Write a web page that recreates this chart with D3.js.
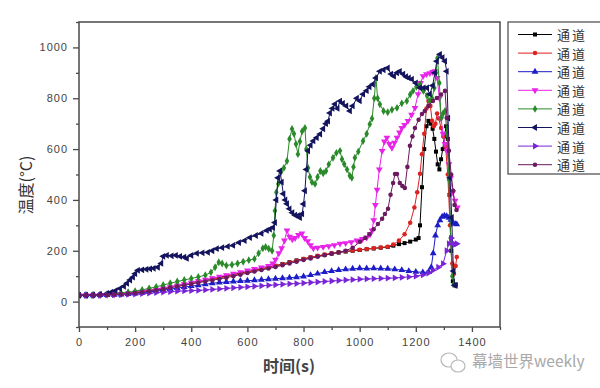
<!DOCTYPE html>
<html>
<head>
<meta charset="utf-8">
<script src="https://cdn.jsdelivr.net/npm/d3@7"></script>
<style>
  body { margin: 0; background: #fff; }
  svg { display: block; }
</style>
</head>
<body>
<div id="chart"></div>
<script>
// temperature readings, [time (s), temperature (°C)]
const ch1 = [[0,25],[25,25],[50,26],[75,26],[100,27],[125,28],[150,30],[175,33],[200,36],[225,40],[250,44],[275,48],[300,53],[325,58],[350,63],[375,68],[400,74],[425,80],[450,85],[475,90],[500,96],[525,101],[550,107],[575,112],[600,118],[625,123],[650,129],[675,135],[700,141],[725,148],[750,155],[775,162],[800,168],[825,174],[850,179],[875,184],[900,189],[925,193],[950,197],[975,200],[1000,203],[1025,206],[1050,209],[1075,212],[1100,215],[1120,220],[1140,226],[1160,230],[1180,236],[1200,244],[1210,250],[1215,300],[1222,450],[1230,600],[1238,690],[1245,711],[1252,700],[1260,680],[1266,640],[1272,590],[1278,540],[1284,520],[1290,560],[1296,600],[1302,650],[1308,690],[1314,640],[1320,420],[1326,200],[1332,80],[1338,64],[1342,66]];
const ch2 = [[0,25],[25,25],[50,25],[75,26],[100,27],[125,28],[150,30],[175,32],[200,35],[225,39],[250,43],[275,47],[300,52],[325,57],[350,62],[375,67],[400,72],[425,77],[450,82],[475,88],[500,93],[525,98],[550,104],[575,110],[600,116],[625,122],[650,128],[675,134],[700,140],[725,147],[750,154],[775,161],[800,168],[825,174],[850,180],[875,185],[900,190],[925,194],[950,198],[975,201],[1000,204],[1025,207],[1050,210],[1075,213],[1100,216],[1120,225],[1140,240],[1160,265],[1180,310],[1195,370],[1205,430],[1215,503],[1222,580],[1230,660],[1238,760],[1245,789],[1252,770],[1258,711],[1264,690],[1270,700],[1276,740],[1282,720],[1290,683],[1298,650],[1306,610],[1314,500],[1322,300],[1330,150],[1336,110],[1342,140],[1346,175]];
const ch3 = [[0,25],[25,25],[50,25],[75,26],[100,26],[125,27],[150,28],[175,30],[200,32],[225,35],[250,38],[275,41],[300,45],[325,49],[350,53],[375,57],[400,61],[425,64],[450,68],[475,72],[500,75],[525,77],[550,79],[575,81],[600,82],[625,84],[650,86],[675,88],[700,90],[725,92],[750,94],[775,96],[800,99],[825,104],[850,110],[875,116],[900,120],[925,124],[950,127],[975,129],[1000,131],[1025,130],[1050,131],[1075,130],[1100,129],[1125,127],[1150,124],[1175,120],[1200,117],[1225,115],[1245,116],[1255,135],[1262,190],[1270,260],[1278,300],[1286,320],[1294,334],[1302,338],[1310,336],[1318,330],[1325,322],[1332,310],[1340,306],[1346,304]];
const ch4 = [[0,25],[25,25],[50,25],[75,26],[100,27],[125,28],[150,30],[175,32],[200,35],[225,39],[250,43],[275,47],[300,52],[325,57],[350,62],[375,68],[400,74],[425,80],[450,86],[475,92],[500,98],[525,104],[550,110],[575,116],[600,122],[625,128],[650,134],[675,140],[690,150],[700,165],[712,190],[722,210],[732,240],[741,280],[750,255],[760,245],[770,250],[782,262],[794,268],[804,250],[815,238],[825,222],[835,210],[850,212],[870,215],[890,218],[910,222],[930,228],[950,230],[970,234],[990,240],[1010,246],[1025,252],[1037,265],[1044,280],[1050,320],[1056,380],[1062,440],[1070,520],[1080,593],[1088,630],[1097,645],[1106,620],[1115,605],[1124,625],[1133,645],[1142,665],[1150,683],[1160,695],[1172,711],[1185,735],[1197,762],[1208,816],[1217,860],[1226,887],[1238,895],[1250,899],[1260,903],[1268,906],[1276,880],[1284,800],[1290,720],[1297,660],[1304,620],[1311,593],[1318,540],[1324,487],[1332,430],[1340,397],[1348,370]];
const ch5 = [[0,25],[25,25],[50,26],[75,27],[100,29],[125,31],[150,34],[175,37],[200,41],[225,46],[250,52],[275,58],[300,65],[325,72],[350,79],[375,85],[400,91],[425,97],[450,104],[470,115],[485,135],[498,155],[510,150],[525,142],[545,145],[565,150],[585,157],[605,163],[625,168],[640,190],[655,210],[665,215],[676,208],[688,200],[694,260],[698,357],[703,430],[710,463],[720,510],[730,526],[741,553],[750,640],[759,679],[766,660],[773,620],[780,580],[787,630],[795,670],[805,683],[810,600],[816,526],[823,490],[830,470],[841,463],[850,490],[860,514],[870,505],[880,514],[890,540],[905,566],[917,585],[930,593],[937,560],[945,541],[955,520],[965,495],[972,487],[978,530],[983,566],[995,590],[1012,632],[1025,660],[1036,698],[1044,720],[1052,800],[1058,880],[1064,800],[1072,776],[1085,750],[1100,745],[1115,755],[1133,762],[1150,780],[1168,789],[1180,815],[1190,829],[1202,845],[1215,855],[1227,829],[1240,810],[1250,789],[1258,800],[1266,840],[1272,900],[1277,958],[1284,860],[1290,722],[1297,740],[1304,750],[1311,660],[1318,480],[1324,250],[1330,100],[1336,70]];
const ch6 = [[0,25],[25,25],[50,26],[75,28],[100,32],[115,37],[130,43],[146,51],[160,60],[171,72],[182,85],[192,96],[200,110],[210,123],[225,125],[240,127],[253,129],[266,131],[281,135],[293,150],[300,178],[313,182],[330,180],[345,182],[360,178],[375,175],[384,170],[400,182],[420,190],[440,192],[459,194],[475,200],[491,208],[510,212],[530,217],[549,221],[570,232],[590,240],[609,252],[630,260],[650,268],[669,280],[680,285],[691,291],[698,311],[703,400],[709,487],[716,514],[722,470],[728,424],[735,400],[741,385],[750,365],[760,350],[770,340],[780,338],[787,330],[795,345],[800,384],[805,436],[810,520],[816,593],[825,615],[835,632],[847,645],[859,659],[870,680],[880,700],[887,710],[894,742],[903,760],[912,777],[921,760],[930,789],[940,780],[952,770],[965,750],[975,770],[990,800],[1000,790],[1012,816],[1025,830],[1035,845],[1047,855],[1058,880],[1072,906],[1085,912],[1100,919],[1112,895],[1122,887],[1133,900],[1143,906],[1155,895],[1165,885],[1175,880],[1186,875],[1200,860],[1215,841],[1228,841],[1240,841],[1250,816],[1260,850],[1268,900],[1275,946],[1286,973],[1295,960],[1304,946],[1310,906],[1315,722],[1322,487],[1328,331],[1334,120],[1338,64],[1342,64]];
const ch7 = [[0,25],[25,25],[50,25],[75,25],[100,26],[125,26],[150,27],[175,28],[200,29],[225,31],[250,33],[275,35],[300,37],[325,39],[350,41],[375,42],[400,43],[425,44],[450,46],[475,48],[500,50],[525,52],[550,54],[575,56],[600,58],[625,60],[650,62],[675,64],[700,66],[725,68],[750,70],[775,71],[800,73],[825,75],[850,77],[875,79],[900,81],[925,83],[950,85],[975,86],[1000,88],[1025,89],[1050,90],[1075,91],[1100,92],[1125,93],[1150,95],[1175,97],[1200,100],[1225,105],[1245,112],[1261,123],[1280,135],[1297,149],[1310,200],[1318,228],[1326,250],[1333,228],[1340,225],[1346,228]];
const ch8 = [[0,25],[25,25],[50,25],[75,26],[100,27],[125,28],[150,29],[175,31],[200,34],[225,37],[250,41],[275,45],[300,49],[325,54],[350,59],[375,64],[400,69],[425,74],[450,79],[475,84],[500,89],[525,94],[550,100],[575,106],[600,112],[625,118],[650,124],[675,130],[700,136],[725,143],[750,150],[775,157],[800,164],[825,170],[850,176],[875,182],[900,188],[925,194],[950,200],[975,212],[1001,235],[1020,250],[1035,265],[1050,285],[1065,305],[1080,326],[1090,345],[1101,365],[1110,420],[1119,467],[1126,502],[1133,502],[1143,467],[1152,455],[1161,447],[1170,530],[1179,613],[1188,650],[1197,683],[1210,715],[1222,738],[1232,750],[1245,770],[1261,789],[1275,801],[1290,815],[1304,829],[1311,722],[1318,593],[1326,500],[1333,436],[1338,380],[1345,360]];

const seriesNames = ["通道", "通道", "通道", "通道", "通道", "通道", "通道", "通道"];
const xTicks = [0, 200, 400, 600, 800, 1000, 1200, 1400];
const yTicks = [0, 200, 400, 600, 800, 1000];

const channels = [ch1, ch2, ch3, ch4, ch5, ch6, ch7, ch8];
const colors = ["#000000", "#dd2222", "#1c1cc8", "#e824e8", "#2a8a2a", "#14145e", "#7a24d8", "#6a1a5e"];
// symbol type + rotation, Origin default order
const symbols = [
  { type: d3.symbolSquare, size: 16, rot: 0 },
  { type: d3.symbolCircle, size: 16, rot: 0 },
  { type: d3.symbolTriangle, size: 20, rot: 0 },
  { type: d3.symbolTriangle, size: 20, rot: 180 },
  { type: d3.symbolDiamond, size: 18, rot: 0 },
  { type: d3.symbolTriangle, size: 20, rot: -90 },
  { type: d3.symbolTriangle, size: 20, rot: 90 },
  { type: d3.symbolCircle, size: 16, rot: 0 },
];

const W = 600, H = 388;
const plot = { left: 79, right: 500, top: 22, bottom: 327 };

const svg = d3.select("#chart").append("svg")
  .attr("width", W).attr("height", H);

const x = d3.scaleLinear().domain([0, 1500]).range([plot.left, plot.right]);
const y = d3.scaleLinear().domain([-100, 1100]).range([plot.bottom, plot.top]);

const axisColor = "#4a4a4a";
const tickFont = "'Liberation Sans', Arial, sans-serif";
const fmt = d3.format("d");

// minor ticks first
svg.append("g")
  .attr("transform", `translate(${plot.left},0)`)
  .call(d3.axisLeft(y).tickValues(d3.range(-100, 1101, 100).filter(v => !yTicks.includes(v))).tickSize(3).tickFormat(""))
  .call(g => g.select(".domain").remove())
  .call(g => g.selectAll("line").attr("stroke", axisColor).attr("stroke-width", 1.3));

svg.append("g")
  .attr("transform", `translate(0,${plot.bottom})`)
  .call(d3.axisBottom(x).tickValues(d3.range(100, 1501, 200)).tickSize(3).tickFormat(""))
  .call(g => g.select(".domain").remove())
  .call(g => g.selectAll("line").attr("stroke", axisColor).attr("stroke-width", 1.3));

// major ticks with labels
const yAxis = svg.append("g")
  .attr("transform", `translate(${plot.left},0)`)
  .call(d3.axisLeft(y).tickValues(yTicks).tickSize(6).tickPadding(5).tickFormat(fmt))
  .call(g => g.select(".domain").remove());
yAxis.selectAll("line").attr("stroke", axisColor).attr("stroke-width", 1.3);
yAxis.selectAll("text")
  .attr("font-family", tickFont).attr("font-size", 11)
  .attr("letter-spacing", "1px").attr("fill", "#444");

const xAxis = svg.append("g")
  .attr("transform", `translate(0,${plot.bottom})`)
  .call(d3.axisBottom(x).tickValues(xTicks).tickSize(5).tickPadding(6).tickFormat(fmt))
  .call(g => g.select(".domain").remove());
xAxis.selectAll("line").attr("stroke", axisColor).attr("stroke-width", 1.3);
xAxis.selectAll("text")
  .attr("font-family", tickFont).attr("font-size", 11)
  .attr("letter-spacing", "1px").attr("fill", "#444");

// plot frame
svg.append("rect")
  .attr("x", plot.left).attr("y", plot.top)
  .attr("width", plot.right - plot.left).attr("height", plot.bottom - plot.top)
  .attr("fill", "none").attr("stroke", axisColor).attr("stroke-width", 1.5);

svg.append("clipPath").attr("id", "clip")
  .append("rect")
  .attr("x", plot.left).attr("y", plot.top)
  .attr("width", plot.right - plot.left).attr("height", plot.bottom - plot.top);

const line = d3.line().x(d => x(d[0])).y(d => y(d[1]));
const dataG = svg.append("g").attr("clip-path", "url(#clip)");

channels.forEach((data, i) => {
  const g = dataG.append("g");
  g.append("path")
    .datum(data)
    .attr("d", line)
    .attr("fill", "none")
    .attr("stroke", colors[i])
    .attr("stroke-width", 1);
  const sym = d3.symbol().type(symbols[i].type).size(symbols[i].size);
  g.selectAll("path.m")
    .data(data)
    .enter()
    .append("path")
    .attr("class", "m")
    .attr("d", sym)
    .attr("transform", d => `translate(${x(d[0])},${y(d[1])}) rotate(${symbols[i].rot})`)
    .attr("fill", colors[i]);
});

// axis titles
svg.append("text")
  .attr("transform", "translate(25,185) rotate(-90)")
  .attr("text-anchor", "middle")
  .attr("dominant-baseline", "central")
  .attr("font-family", "'Noto Sans CJK SC', sans-serif")
  .attr("font-size", 16)
  .attr("fill", "#333")
  .text("温度(°C)");

svg.append("text")
  .attr("x", 289).attr("y", 372)
  .attr("text-anchor", "middle")
  .attr("font-family", "'Noto Sans CJK SC', sans-serif")
  .attr("font-size", 16)
  .attr("font-weight", "bold")
  .attr("fill", "#444")
  .text("时间(s)");

// legend
const legend = svg.append("g");
legend.append("rect")
  .attr("x", 508).attr("y", 22)
  .attr("width", 110).attr("height", 152)
  .attr("fill", "#fff").attr("stroke", "#555").attr("stroke-width", 1.3);

seriesNames.forEach((name, i) => {
  const ly = 34.5 + i * 18.6;
  legend.append("line")
    .attr("x1", 518).attr("x2", 552).attr("y1", ly).attr("y2", ly)
    .attr("stroke", colors[i]).attr("stroke-width", 1);
  legend.append("path")
    .attr("d", d3.symbol().type(symbols[i].type).size(symbols[i].size)())
    .attr("transform", `translate(535,${ly}) rotate(${symbols[i].rot})`)
    .attr("fill", colors[i]);
  legend.append("text")
    .attr("x", 557).attr("y", ly)
    .attr("dominant-baseline", "central")
    .attr("font-family", "'Noto Sans CJK SC', sans-serif")
    .attr("font-size", 13)
    .attr("letter-spacing", "2px")
    .attr("fill", "#333")
    .text(name);
});

// watermark
const wm = svg.append("g").attr("fill", "none").attr("stroke", "#b8b8b8").attr("stroke-width", 1.2);
wm.append("ellipse").attr("cx", 449).attr("cy", 360).attr("rx", 8).attr("ry", 7);
wm.append("ellipse").attr("cx", 458).attr("cy", 366).attr("rx", 7).attr("ry", 6).attr("fill", "#fff");
svg.append("text")
  .attr("x", 472).attr("y", 367)
  .attr("font-family", "'Noto Sans CJK SC', sans-serif")
  .attr("font-size", 15.5)
  .attr("fill", "#a8a8a8")
  .text("幕墙世界weekly");
</script>
</body>
</html>
